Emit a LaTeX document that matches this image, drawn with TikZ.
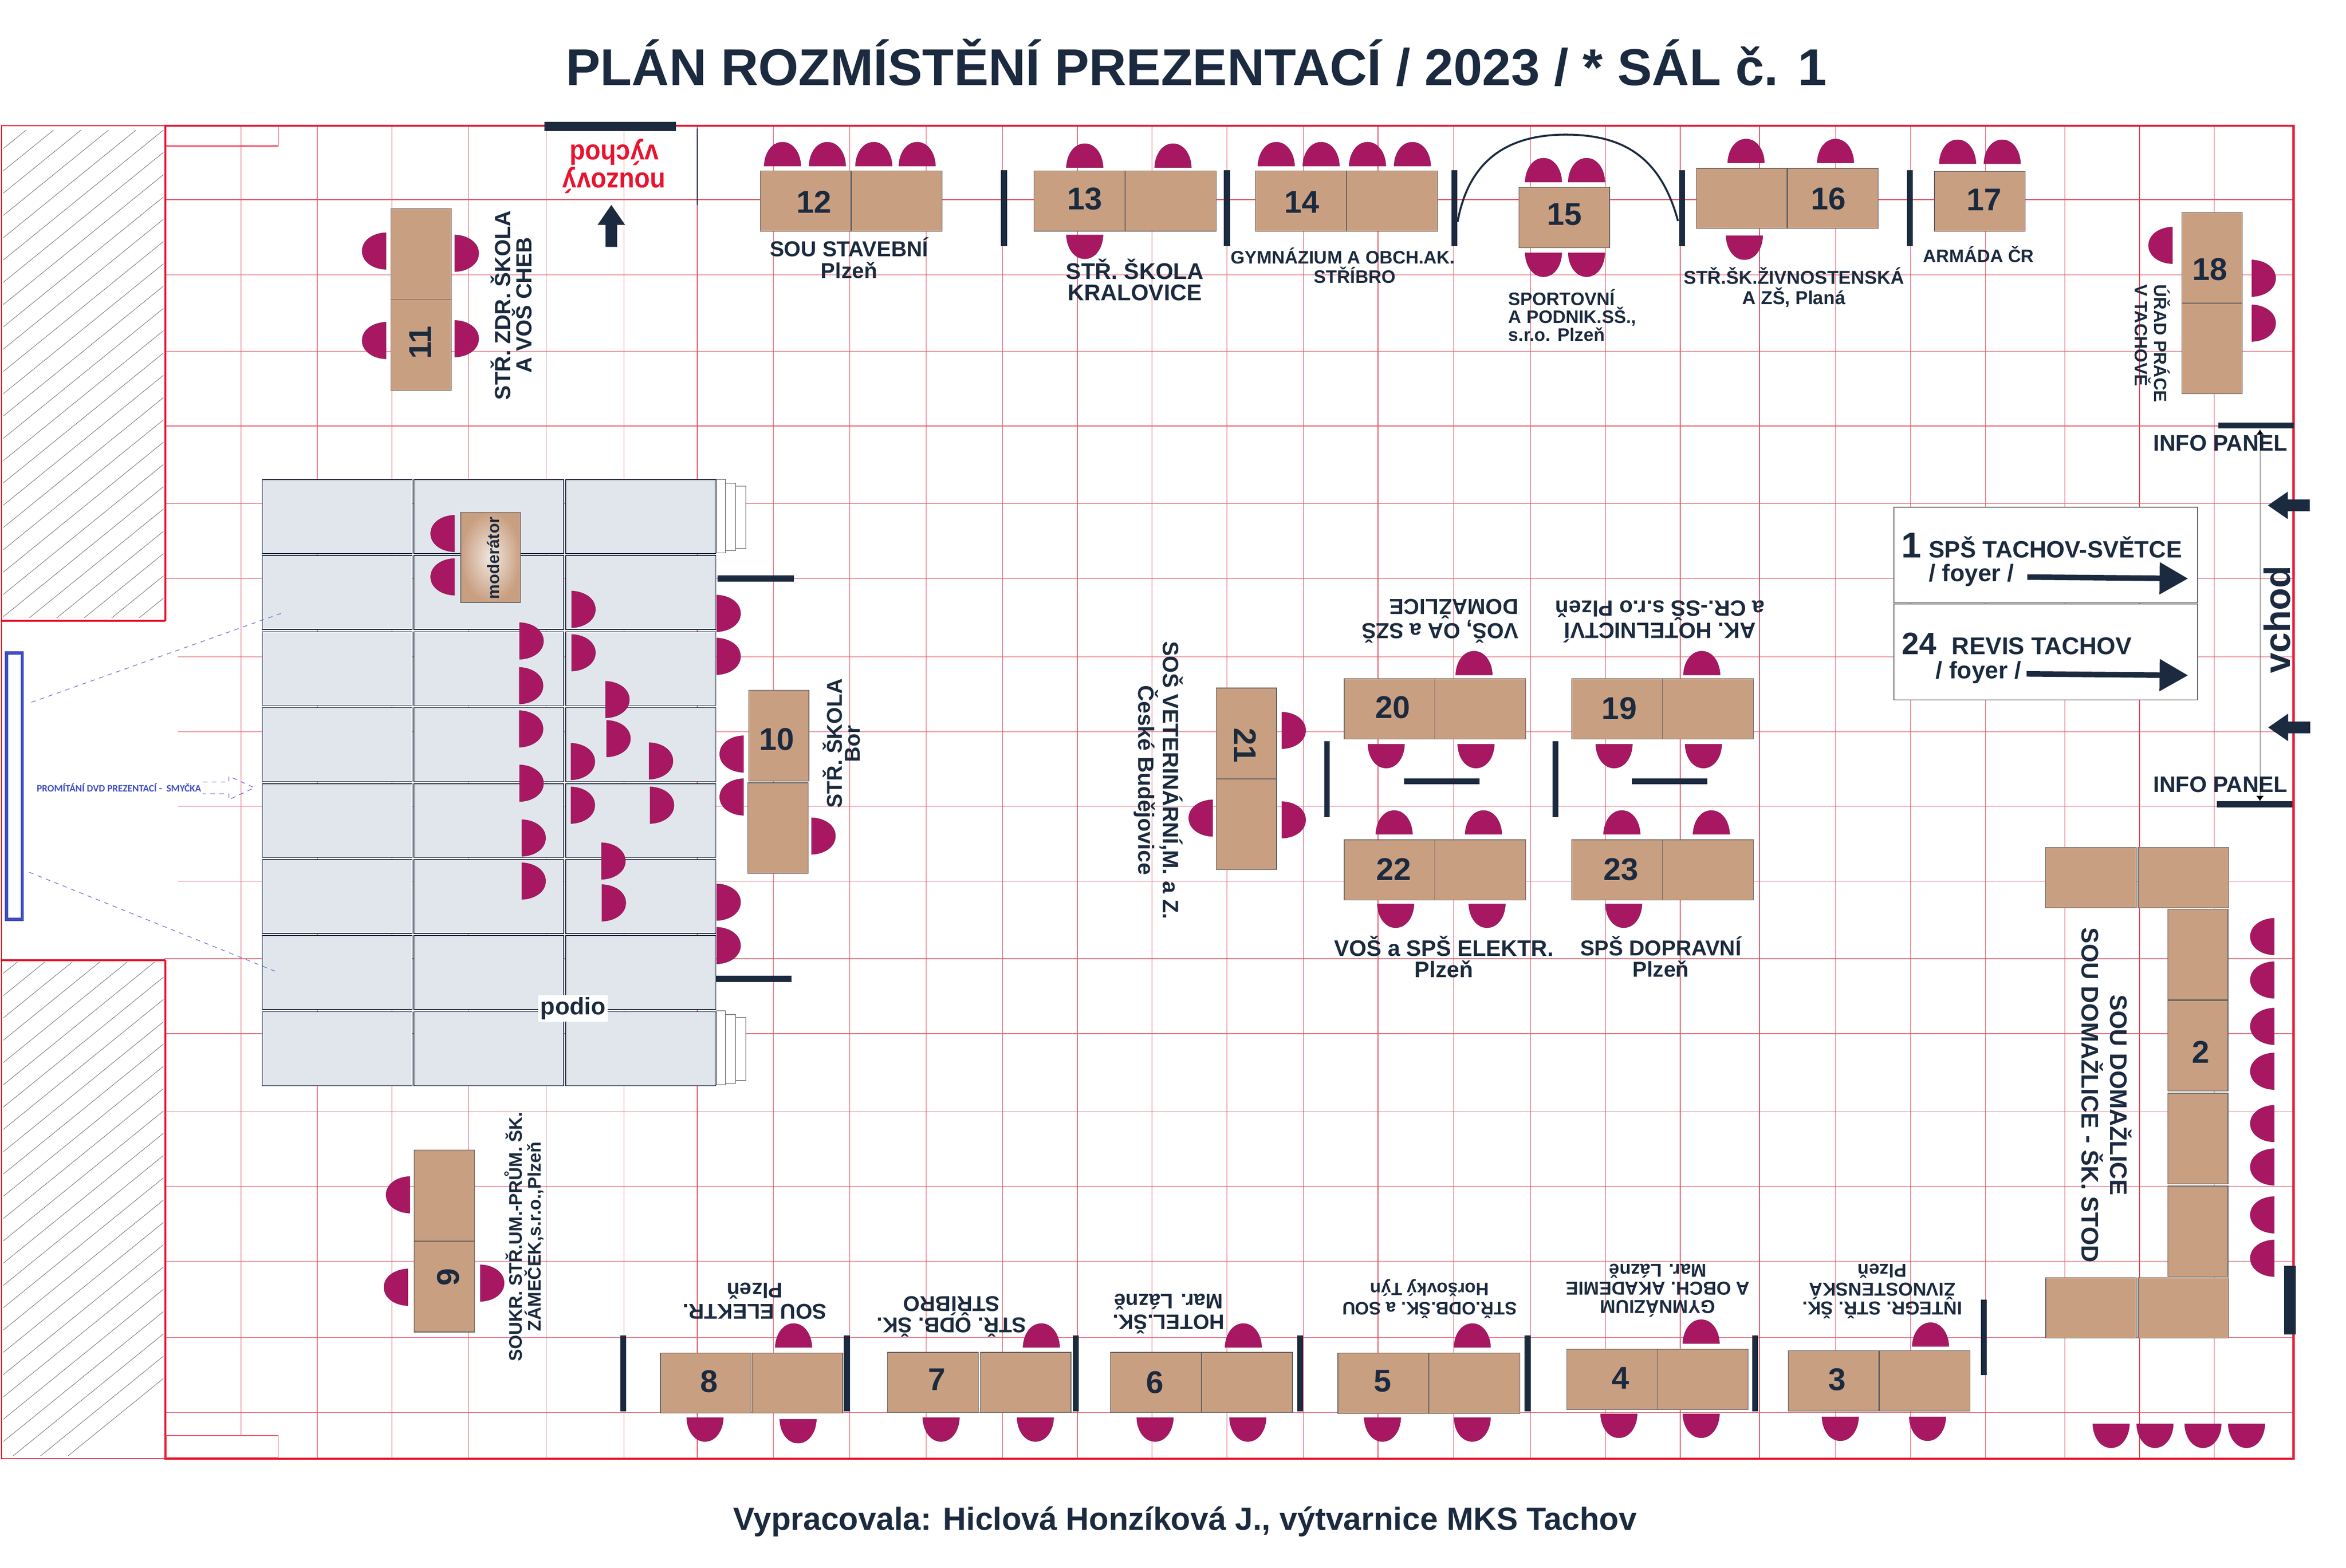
\documentclass[tikz,border=0pt]{standalone}
\usepackage{fontspec}
\setmainfont{Liberation Sans}
\newfontfamily\carlitoF{Carlito}
\usetikzlibrary{arrows.meta}
\definecolor{navyC}{HTML}{1B2A3E}
\definecolor{deskC}{HTML}{C99F82}
\definecolor{seatC}{HTML}{A81862}
\definecolor{wallC}{HTML}{E8142F}
\definecolor{gridC}{HTML}{DF5565}
\definecolor{stageC}{HTML}{E1E5EC}
\definecolor{blueC}{HTML}{3F4DC4}
\newcommand{\lf}[2]{\bfseries\fontsize{#1}{#2}\selectfont}

\begin{document}
\begin{tikzpicture}
  [x=1pt,y=-1pt,
   gridL/.style={gridC,line width=0.4pt},
   wallL/.style={wallC,line width=1.5pt},
   barL/.style={navyC,line width=4pt},
   thinBar/.style={navyC,line width=3.6pt},
   deskN/.style={draw=gray!75!black,line width=0.4pt,fill=deskC,inner sep=0pt},
   deskH/.style={deskN,minimum width=60.6pt,minimum height=40.3pt},
   deskV/.style={deskN,minimum width=40.3pt,minimum height=60.6pt},
   stageN/.style={draw=navyC,line width=0.5pt,fill=stageC,inner sep=0pt,
     minimum width=100.3pt,minimum height=49.4pt},
   stepN/.style={draw=gray!60!black,line width=0.3pt,fill=white},
   numN/.style={text=navyC,inner sep=0pt,font=\lf{21}{21}},
   lblN/.style={text=navyC,inner sep=0pt,align=center},
   boxN/.style={draw=gray!80!black,line width=0.4pt,fill=white,inner sep=0pt,
     minimum width=203pt,minimum height=64pt},
   pointerL/.style={navyC,line width=3.7pt,-{Triangle[length=19pt,width=20.6pt]}},
   seat/.pic={\fill[seatC,draw=seatC!70!black,line width=0.15pt]
     (-12.3,0) .. controls (-12,-9) and (-7,-16) .. (0,-16)
     .. controls (7,-16) and (12,-9) .. (12.3,0) -- cycle;},
   bigArrow/.pic={\fill[navyC] (0,0) -- (9.2,13.3) -- (3.9,13.3) -- (3.9,28) -- (-3.9,28)
     -- (-3.9,13.3) -- (-9.2,13.3) -- cycle;},
  ]
  \useasboundingbox (0,0) rectangle (1568,1048);

  % grid of the hall
  \foreach \x in {161,212,262,313,365,417,466,517,568,619,670,720,770,820,871,921,971.5,1023,1073,1123,1176,1227,1277,1327,1380,1430,1480}
    \draw[gridL] (\x,84) -- (\x,975);
  \foreach \y in {133.5,183.7,234.7,284.7,336.7,386.7,640.8,690.9,743,793,843,894,944}
    \draw[gridL] (110,\y) -- (1533,\y);
  \foreach \y in {439,489,538.8,588.9}
    \draw[gridL] (119,\y) -- (1533,\y);

  % walls
  \begin{scope}
    \clip (2.2,87) rectangle (109.4,413) (2.2,643) rectangle (109.4,973);
    \foreach \k in {-2,...,60}
      \draw[gray!70!black,line width=0.25pt] (2.2,{114.2+14.9*\k}) -- (109.4,{114.2+14.9*\k-87});
  \end{scope}
  \draw[wallC,line width=0.6pt] (1,415) -- (1,84) -- (110.5,84);
  \draw[wallC,line width=0.7pt] (1,415) -- (1,641.7);
  \draw[wallC,line width=0.6pt] (1,641.7) -- (1,975) -- (110.5,975);
  \draw[wallC,line width=1.2pt] (1,415) -- (110.5,415);
  \draw[wallC,line width=1.2pt] (1,641.7) -- (110.5,641.7);
  \draw[wallL] (110.5,415) -- (110.5,84) -- (1533,84) -- (1533,975) -- (110.5,975) -- (110.5,641.7);
  \draw[wallC,line width=0.6pt] (110.5,97.5) -- (186,97.5) -- (186,84);
  \draw[wallC!70,line width=0.4pt,fill=white] (111.2,959.5) rectangle (186,974.2);

  % podium
  \foreach \c/\x in {0/225.4,1/326.7,2/428.3}
    \foreach \r in {0,...,7}
      \node[stageN] (st\c\r) at (\x,{345.3+50.8*\r}) {};
  \draw[stepN] (491.6,325) rectangle (498.6,366.7);
  \draw[stepN] (485,323) rectangle (491.6,368);
  \draw[stepN] (478.6,320.5) rectangle (485,369.6);
  \draw[stepN] (491.6,680) rectangle (498.6,722);
  \draw[stepN] (485,678) rectangle (491.6,724);
  \draw[stepN] (478.6,675.7) rectangle (485,725);
  \node[lblN,fill=white,inner sep=1.5pt,font=\lf{16}{16}] (podio) at (383,674) {podio};

  % moderator
  \node[deskN,shade,shading=radial,inner color=deskC!25,outer color=deskC,
    minimum width=40pt,minimum height=60.3pt] (modD) at (328,372.5) {};
  \node[lblN,rotate=90,font=\lf{11.1}{11}] (modT) at (329.5,373) {moderátor};

  % screen and projection
  \node[draw=blueC,line width=2.2pt,fill=white,inner sep=0pt,minimum width=10.5pt,
    minimum height=178pt] (screenN) at (9.6,525.5) {};
  \node[text=blueC,inner sep=0pt,font=\carlitoF\bfseries\fontsize{6.6}{7}\selectfont] (dvdT) at (79.5,526.5) {PROMÍTÁNÍ DVD PREZENTACÍ -\ \ SMYČKA};
  \draw[blueC,line width=0.35pt,dashed] (135.6,522.7) -- (153,522.7) -- (153,518.8) -- (170,526.5)
    -- (153,534.5) -- (153,530.6) -- (135.6,530.6);
  \draw[blueC!85,line width=0.4pt,dashed] (21,469.4) -- (189,409.6);
  \draw[blueC!85,line width=0.4pt,dashed] (19.6,583) -- (184,649.2);

  % desks
  \foreach \n/\x/\y in {d12a/538.5/134.5,d12b/599.5/134.5,d13a/721.5/134.3,d13b/782.5/134.3,
    d14a/869.5/134.5,d14b/930.5/134.5,d15/1045.5/145.5,d16a/1164/132.6,d16b/1225/132.6,d17/1323.3/134.6,
    d20a/928.7/473.8,d20b/989.4/473.8,d19a/1080.8/473.8,d19b/1141.6/473.8,
    d22a/928.7/581.5,d22b/989.4/581.5,d23a/1080.8/581.5,d23b/1141.6/581.5,
    d8a/471.7/924.4,d8b/533/924.4,d7a/623.5/924,d7b/685.5/924,d6a/772.5/924,d6b/833.5/924,
    d5a/924.5/924.5,d5b/985.5/924.5,d4a/1077.5/922,d4b/1138/922,d3a/1225.5/923,d3b/1286.5/923,
    d2a/1397.5/586.5,d2b/1459.3/586.5,d2c/1397.6/874.2,d2d/1459.3/874.2}
    \node[deskH] (\n) at (\x,\y) {};
  \foreach \n/\x/\y in {d11a/281.5/169.8,d11b/281.5/230.6,d18a/1478.5/172.3,d18b/1478.5/233,
    d9a/297/799,d9b/297/860,d10a/520.5/491.7,d10b/520/553.5,d21a/833/490.2,d21b/833/551,
    d2e/1469/638,d2f/1469/699,d2g/1469/761,d2h/1469/823}
    \node[deskV] (\n) at (\x,\y) {};

  % seats
  \foreach \x/\y in {523/111,553/111,584/111,613/111,725/112,784/112,853/111,883/111,914/111,944/111,
    1031.6/121.7,1060.4/121.7,1167/108.9,1226.8/108.9,1308.4/109.4,1338.2/109.4,
    985.2/451.2,1137.4/451.2,931.8/557.7,991.5/557.7,1084/557.7,1143.8/557.7,
    530.4/900.6,696/900.6,831/900.6,984/900.6,1137/898,1290.3/900}
    \pic at (\x,\y) {seat};
  \foreach \x/\y in {725/157,1031.6/169,1060.4/169,1165.9/157.6,
    926.5/497.4,986.5/497.4,1078.8/497.4,1138.5/497.4,932.8/604.1,993.9/604.1,1085.2/604.1,
    471.2/947.5,533.4/948.6,629/947.5,692/947.5,772/947.5,834/947.5,924/947.5,984/947.5,
    1082/945,1137/945,1230/947,1288.3/947,1411/951.7,1440.3/951.7,1472.4/951.7,1501.5/951.7}
    \pic[rotate=180] at (\x,\y) {seat};
  \foreach \x/\y in {258/167.8,258/227.6,1452/164,303.8/356.6,303.8/385.6,497/504,497/532.7,
    810.5/546.8,274/798.6,272.6/860.4,1520/626,1520/655,1520/686,1520/716,1520/751,1520/780,1520/812,1520/841}
    \pic[rotate=90] at (\x,\y) {seat};
  \foreach \x/\y in {304/169.3,304/226.4,1505/186,1505/216,542.4/558.8,856.7/488.2,856.7/548,321/857.6,
    479/410,479/438.7,479/603,479/632,
    382/407.3,382/436.3,347.3/428.4,347/458.3,404.7/467.6,405.4/493.7,347/487.2,381.6/509,433.8/508.6,
    347.3/523.5,381.6/538.2,434.5/538.2,348.7/560.1,348.7/588.9,402/575.5,402.3/603.5}
    \pic[rotate=-90] at (\x,\y) {seat};

  % desk numbers
  \foreach \n/\x/\y in {12/544/135,13/725/133,14/870/135,15/1045.7/143.4,16/1222/133,17/1326/133.5,
    18/1477/180,20/930.8/472.8,19/1082.3/473.5,22/931.4/581,23/1083.4/581,10/519.3/494,2/1471/703,
    8/474/923.4,7/626/922,6/772/924,5/924/923,4/1083/921,3/1228/922}
    \node[numN] (n\n) at (\x,\y) {\n};
  \node[numN,rotate=90] (n11) at (281,229) {11};
  \node[numN,rotate=90] (n9) at (299.5,853.7) {9};
  \node[numN,rotate=-90] (n21) at (832.2,498.2) {21};

  % partitions
  \foreach \x in {671,820,972,1124.3,1276.4}
    \draw[barL] (\x,113.7) -- (\x,164.4);
  \foreach \x in {416.5,566,719,869,1021,1173}
    \draw[barL] (\x,892.7) -- (\x,943.4);
  \draw[barL] (1326,868.6) -- (1326,919.2);
  \draw[navyC,line width=7.5pt] (1530.5,845.9) -- (1530.5,892);
  \draw[navyC,line width=6.2pt] (364,84.5) -- (451.7,84.5);
  \draw[navyC,line width=0.7pt] (466,86) -- (466,137);
  \draw[barL] (479.7,386.7) -- (530.5,386.7);
  \draw[barL] (478.6,654.2) -- (529,654.2);
  \draw[thinBar] (887,495.4) -- (887,546);
  \draw[thinBar] (1039.6,495.4) -- (1039.6,546);
  \draw[barL] (938.3,522.2) -- (988.8,522.2);
  \draw[barL] (1090.6,522.2) -- (1141,522.2);
  \draw[barL] (1482.6,284.4) -- (1533,284.4);
  \draw[barL] (1481.6,537.6) -- (1532,537.6);

  % arc over desk 15
  \draw[navyC,line width=1.3pt] (974.2,148.3) .. controls (982,105) and (1010,90) .. (1046.5,90)
    .. controls (1085,90) and (1110,105) .. (1121.5,147.7);

  % entrance and exit
  \draw[gray!80!black,line width=0.4pt,{Latex[length=3.5pt,width=5pt,black]}-{Latex[length=3.5pt,width=5pt,black]}] (1510.5,287) -- (1510.5,535.5);
  \pic at (408.6,137) {bigArrow};
  \pic[rotate=90] at (1515.8,337.8) {bigArrow};
  \pic[rotate=90] at (1516,486.2) {bigArrow};
  \node[lblN,text=wallC,rotate=180,yscale=1.1,font=\lf{17}{15.5}] (exitT) at (410.5,111) {nouzový\\východ};
  \node[lblN,rotate=90,anchor=base,font=\lf{24.4}{24}] (vchodT) at (1530.5,414) {vchod};
  \node[lblN,font=\lf{15}{15}] (info1) at (1484,296.2) {INFO PANEL};
  \node[lblN,font=\lf{15}{15}] (info2) at (1484,524.4) {INFO PANEL};

  % foyer boxes
  \node[boxN] (box1) at (1367.3,371) {};
  \node[boxN] (box2) at (1367.3,435.7) {};
  \node[lblN,anchor=base west,font=\lf{24}{24}] (f1) at (1270.5,372.9) {1};
  \node[lblN,anchor=base west,font=\lf{15.8}{16}] (f1a) at (1289,372.9) {SPŠ TACHOV-SVĚTCE};
  \node[lblN,anchor=base west,font=\lf{16}{16}] (f1b) at (1289,388.6) {/ foyer /};
  \node[lblN,anchor=base west,font=\lf{20.7}{21}] (f2) at (1271,437.4) {24};
  \node[lblN,anchor=base west,font=\lf{16.2}{16}] (f2a) at (1304.4,437.4) {REVIS TACHOV};
  \node[lblN,anchor=base west,font=\lf{16}{16}] (f2b) at (1293.7,453.5) {/ foyer /};
  \draw[pointerL] (1355,385.7) -- (1462.4,386.7);
  \draw[pointerL] (1354.5,450.4) -- (1462.4,451.4);

  % texts
  \node[lblN,anchor=base,font=\lf{34.6}{35}] (titleT) at (799.5,57) {PLÁN ROZMÍSTĚNÍ PREZENTACÍ / 2023 / * SÁL č. 1};
  \node[lblN,anchor=base,font=\lf{21.4}{22}] (footT) at (792,1022.8) {Vypracovala: Hiclová Honzíková J., výtvarnice MKS Tachov};
  \node[lblN,rotate=90,font=\lf{14.6}{14}] (t11) at (341.7,204) {STŘ. ZDR. ŠKOLA\\A VOŠ CHEB};
  \node[lblN,font=\lf{14.4}{14.5}] (t12) at (567.5,172.5) {SOU STAVEBNÍ\\Plzeň};
  \node[lblN,font=\lf{15.2}{14}] (t13) at (758.5,187) {STŘ. ŠKOLA\\KRALOVICE};
  \node[lblN,font=\lf{12.1}{13}] (t14) at (897.5,177.5) {GYMNÁZIUM A OBCH.AK.\\\hspace*{16pt}STŘÍBRO};
  \node[lblN,align=left,anchor=west,font=\lf{12.1}{11.9}] (t15) at (1008,210.7) {SPORTOVNÍ\\A PODNIK.SŠ.,\\s.r.o. Plzeň};
  \node[lblN,font=\lf{12.5}{13.8}] (t16) at (1199,192) {STŘ.ŠK.ŽIVNOSTENSKÁ\\A ZŠ, Planá};
  \node[lblN,font=\lf{12}{12}] (t17) at (1322.5,170) {ARMÁDA ČR};
  \node[lblN,rotate=-90,anchor=west,align=left,font=\lf{11.8}{13}] (t18) at (1438.5,190) {ÚŘAD PRÁCE\\V TACHOVĚ};
  \node[lblN,rotate=90,font=\lf{14.3}{12}] (t10) at (562.5,497) {STŘ. ŠKOLA\\Bor};
  \node[lblN,rotate=-90,font=\lf{14.8}{14.7}] (t21) at (774.3,521.5) {SOŠ VETERINÁRNÍ,M. a Z.\\České Budějovice};
  \node[lblN,rotate=180,anchor=west,align=left,font=\lf{14.5}{14.3}] (t20) at (1015,415) {VOŠ, OA a SZŠ\\DOMAŽLICE};
  \node[lblN,rotate=180,font=\lf{14.8}{15}] (t19) at (1109.5,415.5) {AK. HOTELNICTVÍ\\a CR.-SŠ s.r.o Plzeň};
  \node[lblN,font=\lf{15}{14.4}] (t22) at (965,639.5) {VOŠ a SPŠ ELEKTR.\\Plzeň};
  \node[lblN,font=\lf{14.4}{14.4}] (t23) at (1110,639.5) {SPŠ DOPRAVNÍ\\Plzeň};
  \node[lblN,rotate=-90,font=\lf{16}{19}] (t2) at (1408,732) {SOU DOMAŽLICE\\SOU DOMAŽLICE - ŠK. STOD};
  \node[lblN,rotate=90,font=\lf{12.1}{12.4}] (t9) at (350.2,826.5) {SOUKR. STŘ.UM.-PRŮM. ŠK.\\ZÁMEČEK,s.r.o.,Plzeň};
  \node[lblN,rotate=180,font=\lf{14.3}{14}] (t8) at (504.5,869.5) {SOU ELEKTR.\\Plzeň};
  \node[lblN,rotate=180,font=\lf{14.3}{14}] (t7) at (636,880) {STŘ. ODB. ŠK.\\STŘÍBRO};
  \node[lblN,rotate=180,font=\lf{14}{14}] (t6) at (781,878) {HOTEL.ŠK.\\Mar. Lázně};
  \node[lblN,rotate=180,font=\lf{12}{13}] (t5) at (955.5,868) {STŘ.ODB.ŠK. a SOU\\Horšovký Týn};
  \node[lblN,rotate=180,font=\lf{12.5}{12}] (t4) at (1108,862.5) {GYMNÁZIUM\\A OBCH. AKADEMIE\\Mar. Lázně};
  \node[lblN,rotate=180,font=\lf{12.5}{12.5}] (t3) at (1258,863) {INTEGR. STŘ. ŠK.\\ŽIVNOSTENSKÁ\\Plzeň};
\end{tikzpicture}
\end{document}
